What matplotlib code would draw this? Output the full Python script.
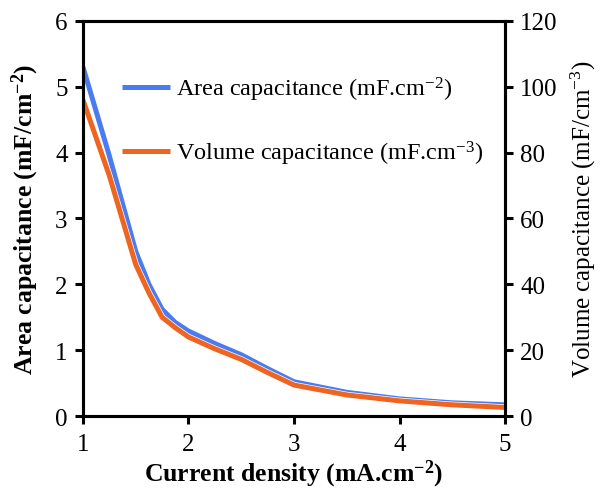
import matplotlib
matplotlib.use('Agg')
import matplotlib.pyplot as plt
import matplotlib.patheffects as pe

plt.rcParams['font.family'] = ['Liberation Serif', 'DejaVu Serif']
plt.rcParams['mathtext.fontset'] = 'custom'
plt.rcParams['mathtext.rm'] = 'Liberation Serif'
plt.rcParams['mathtext.it'] = 'Liberation Serif:italic'
plt.rcParams['mathtext.bf'] = 'Liberation Serif:bold'

current_density = [1, 1.25, 1.5, 1.625, 1.75, 1.875, 2, 2.25, 2.5, 2.75,
                   3, 3.5, 4, 4.5, 5]
area_cap = [5.3, 3.95, 2.5, 2.0, 1.62, 1.42, 1.29, 1.1, 0.93, 0.72,
            0.52, 0.36, 0.26, 0.2, 0.17]
volume_cap = [96, 73, 46, 37.4, 30, 26.8, 24, 20.4, 17.2, 13.2,
              9.4, 6.4, 4.6, 3.4, 2.6]

BLUE = '#4a7cf0'
ORANGE = '#ee6420'

fig = plt.figure(figsize=(6.03, 4.89), dpi=100)
ax = fig.add_axes([0.1376, 0.1472, 0.70, 0.808])
ax2 = ax.twinx()

l1, = ax.plot(current_density, area_cap, color=BLUE, lw=3.6,
              solid_capstyle='butt', solid_joinstyle='round',
              label=r'Area capacitance (mF.cm$^{-2}$)')
l2, = ax2.plot(current_density, volume_cap, color=ORANGE, lw=3.6,
               solid_capstyle='butt', solid_joinstyle='round',
               path_effects=[pe.Stroke(linewidth=4.6, foreground='white'),
                             pe.Normal()],
               label=r'Volume capacitance (mF.cm$^{-3}$)')

ax.set_xlim(1, 5)
ax.set_ylim(0, 6)
ax2.set_ylim(0, 120)
ax.set_xticks([1, 2, 3, 4, 5])
ax.set_yticks(range(0, 7))
ax2.set_yticks(range(0, 121, 20))

for a in (ax, ax2):
    for s in a.spines.values():
        s.set_linewidth(2.2)
    a.tick_params(direction='out', length=6, width=2.2, labelsize=18,
                  pad=5)
ax.tick_params(axis='x', pad=6)

ax.set_xlabel(r'Current density (mA.cm$^{\mathbf{-2}}$)', fontsize=18.5,
              fontweight='bold', va='center')
ax.xaxis.set_label_coords(0.5, -0.145)
ax.set_ylabel(r'Area capacitance (mF/cm$^{\mathbf{-2}}$)', fontsize=18.5,
              fontweight='bold', labelpad=10)
ax2.set_ylabel(r'Volume capacitance (mF/cm$^{-3}$)', fontsize=18,
               rotation=90, labelpad=8)

leg = ax2.legend([l1, l2], [l1.get_label(), l2.get_label()],
                 loc='upper left', bbox_to_anchor=(0.04, 0.92),
                 frameon=False, fontsize=17.5, handlelength=2.0,
                 handletextpad=0.25, labelspacing=1.5)
for h in leg.legend_handles:
    h.set_path_effects([])

fig.savefig('out.png', dpi=100)
